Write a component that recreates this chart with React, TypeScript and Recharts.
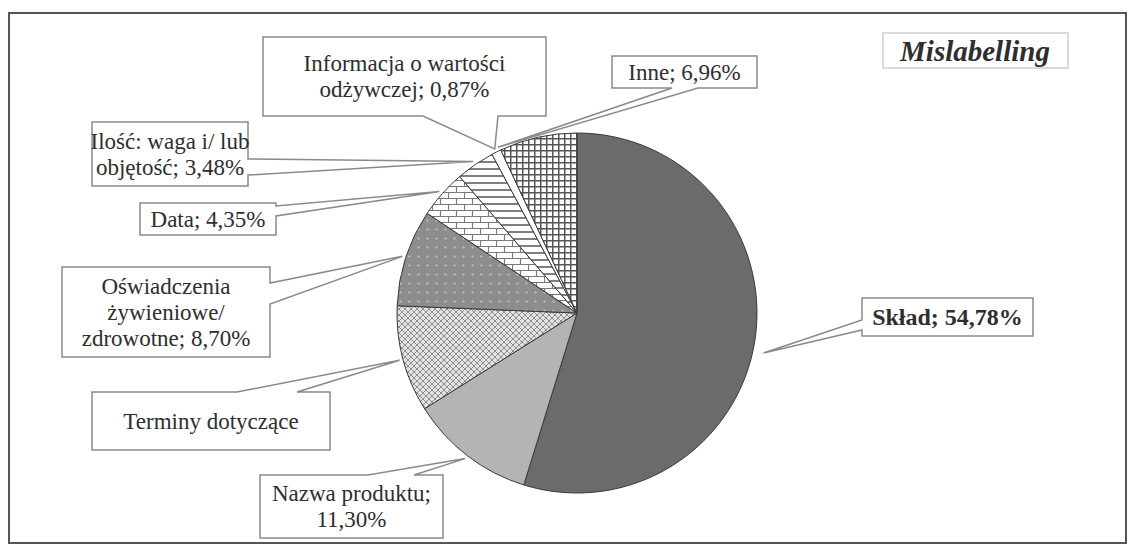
import React from 'react';
import { PieChart, Pie, Cell } from 'recharts';

// slice names ("\n" marks where the callout text wraps) and their shares in %
const categories = [
  'Skład',
  'Nazwa produktu',
  'Terminy dotyczące',
  'Oświadczenia\nżywieniowe/\nzdrowotne',
  'Data',
  'Ilość: waga i/ lub\nobjętość',
  'Informacja o wartości\nodżywczej',
  'Inne',
];
const shares = [54.78, 11.3, 9.57, 8.7, 4.35, 3.48, 0.87, 6.96];

const fills = [
  '#6b6b6b',
  '#b4b4b4',
  'url(#pTerminy)',
  'url(#pDots)',
  'url(#pBrick)',
  'url(#pHoriz)',
  '#ffffff',
  'url(#pGrid)',
];

type Side = 'top' | 'bottom' | 'left' | 'right';
interface Callout {
  x: number; y: number; w: number; h: number;
  side: Side; b1: number; b2: number;
  tipShift?: number; tipR?: number;
  bold?: boolean; hideValue?: boolean; valueOnNewLine?: boolean;
}

// callout boxes, in page pixels
const callouts: Callout[] = [
  { x: 862, y: 298, w: 171, h: 38, side: 'left', b1: 320, b2: 330, tipR: 1.06, tipShift: -3.5, bold: true },
  { x: 260, y: 475, w: 183, h: 63, side: 'top', b1: 368, b2: 414, valueOnNewLine: true },
  { x: 92, y: 392, w: 238, h: 58, side: 'top', b1: 237, b2: 297, hideValue: true },
  { x: 62, y: 267, w: 208, h: 90, side: 'right', b1: 283, b2: 304 },
  { x: 140, y: 203, w: 136, h: 32, side: 'right', b1: 206, b2: 216 },
  { x: 92, y: 122, w: 156, h: 64, side: 'right', b1: 159, b2: 175 },
  { x: 263, y: 37, w: 283, h: 79, side: 'bottom', b1: 423, b2: 498 },
  { x: 612, y: 56, w: 145, h: 32, side: 'bottom', b1: 672, b2: 698, tipShift: 13 },
];

const data = categories.map((name, i) => ({ name, value: shares[i] }));

const fmt = (v: number) => v.toFixed(2).replace('.', ',') + '%';

function calloutPath(c: Callout, tx: number, ty: number) {
  const r = c.x + c.w;
  const b = c.y + c.h;
  switch (c.side) {
    case 'top':
      return `M${c.x},${c.y} H${c.b1} L${tx},${ty} L${c.b2},${c.y} H${r} V${b} H${c.x} Z`;
    case 'bottom':
      return `M${c.x},${c.y} H${r} V${b} H${c.b2} L${tx},${ty} L${c.b1},${b} H${c.x} Z`;
    case 'right':
      return `M${c.x},${c.y} H${r} V${c.b1} L${tx},${ty} L${r},${c.b2} V${b} H${c.x} Z`;
    default:
      return `M${c.x},${c.y} H${r} V${b} H${c.x} V${c.b2} L${tx},${ty} L${c.x},${c.b1} Z`;
  }
}

const RAD = Math.PI / 180;

function renderCallout(props: any) {
  const { cx, cy, outerRadius, midAngle, index } = props;
  const c = callouts[index];
  const ang = (midAngle + (c.tipShift ?? 0)) * RAD;
  const rr = outerRadius * (c.tipR ?? 1.02);
  const tx = cx + rr * Math.cos(ang);
  const ty = cy - rr * Math.sin(ang);
  let lines = categories[index].split('\n');
  if (!c.hideValue) {
    if (c.valueOnNewLine) {
      lines[lines.length - 1] += ';';
      lines.push(fmt(shares[index]));
    } else {
      lines[lines.length - 1] += '; ' + fmt(shares[index]);
    }
  }
  const lh = 26;
  const midY = c.y + c.h / 2;
  const firstY = midY - ((lines.length - 1) * lh) / 2;
  return (
    <g key={`callout-${index}`}>
      <path d={calloutPath(c, tx, ty)} fill="#fff" stroke="#8a8a8a" strokeWidth={1.5} />
      <text
        x={c.x + c.w / 2}
        textAnchor="middle"
        fontFamily="'Liberation Serif', 'Times New Roman', serif"
        fontSize={c.bold ? 24 : 23}
        fontWeight={c.bold ? 'bold' : 'normal'}
        fill="#2e2e2e"
      >
        {lines.map((l, i) => (
          <tspan key={i} x={c.x + c.w / 2} y={firstY + i * lh} dominantBaseline="central">
            {l}
          </tspan>
        ))}
      </text>
    </g>
  );
}

export default function App() {
  return (
    <div style={{ position: 'absolute', left: 0, top: 0, width: 1128, height: 546, background: '#fff' }}>
      <PieChart width={1128} height={546} margin={{ top: 0, right: 0, bottom: 0, left: 0 }}>
        <defs>
          <pattern id="pTerminy" width="6" height="6" patternUnits="userSpaceOnUse">
            <rect width="6" height="6" fill="#e2e2e2" />
            <path d="M0,0 L6,6 M6,0 L0,6" stroke="#8e8e8e" strokeWidth="1" />
          </pattern>
          <pattern id="pDots" width="9" height="9" patternUnits="userSpaceOnUse">
            <rect width="9" height="9" fill="#8d8d8d" />
            <circle cx="4.5" cy="4.5" r="1.1" fill="#c4c4c4" />
          </pattern>
          <pattern id="pBrick" width="16" height="12" patternUnits="userSpaceOnUse">
            <rect width="16" height="12" fill="#fff" />
            <path d="M0,0.5 H16 M0,6.5 H16 M0.5,0 V6 M8.5,6 V12" stroke="#7a7a7a" strokeWidth="1.2" />
          </pattern>
          <pattern id="pHoriz" width="6" height="7" patternUnits="userSpaceOnUse">
            <rect width="6" height="7" fill="#fff" />
            <path d="M0,1 H6" stroke="#555" strokeWidth="1.5" />
          </pattern>
          <pattern id="pGrid" width="6" height="6" patternUnits="userSpaceOnUse">
            <rect width="6" height="6" fill="#fff" />
            <path d="M0,0.75 H6 M0.75,0 V6" stroke="#555" strokeWidth="1.5" />
          </pattern>
        </defs>
        <rect x={9} y={13} width={1117} height={530} fill="none" stroke="#555" strokeWidth={2} />
        <Pie
          data={data}
          dataKey="value"
          nameKey="name"
          cx={577}
          cy={313}
          outerRadius={180}
          startAngle={90}
          endAngle={-270}
          stroke="#3a3a3a"
          strokeWidth={1}
          label={renderCallout}
          labelLine={false}
          isAnimationActive={false}
        >
          {data.map((_, i) => (
            <Cell key={`cell-${i}`} fill={fills[i]} />
          ))}
        </Pie>
        <rect x={883} y={33} width={185} height={35} fill="#fff" stroke="#cfcfcf" strokeWidth={1.5} />
        <text
          x={975}
          y={51}
          textAnchor="middle"
          dominantBaseline="central"
          fontFamily="'Liberation Serif', 'Times New Roman', serif"
          fontSize={29}
          fontWeight="bold"
          fontStyle="italic"
          fill="#2e2e2e"
        >
          Mislabelling
        </text>
      </PieChart>
    </div>
  );
}
